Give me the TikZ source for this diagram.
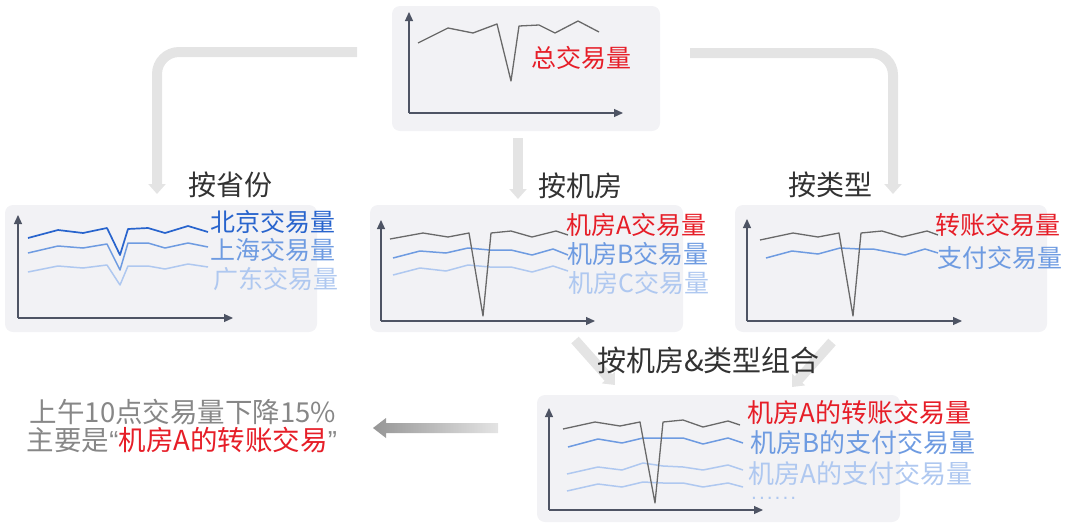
\documentclass[tikz,border=0pt]{standalone}
\usepackage{fontspec}
\setmainfont{Noto Sans CJK SC}
\newfontfamily\latinq{Liberation Sans}
\usetikzlibrary{arrows.meta}
\definecolor{pfill}{RGB}{242,242,245}
\definecolor{axc}{RGB}{78,84,100}
\definecolor{lgray}{RGB}{105,105,105}
\definecolor{db}{RGB}{40,100,205}
\definecolor{mb}{RGB}{110,155,225}
\definecolor{lb}{RGB}{175,200,240}
\definecolor{rd}{RGB}{230,30,40}
\definecolor{arr}{RGB}{228,228,228}
\definecolor{txt}{RGB}{50,50,50}
\definecolor{tgray}{RGB}{135,135,135}
\newcommand\myaxes[4]{%
  \draw[axisline] (#1,#3) -- (#1,#2);
  \draw[axisline] (#1,#3) -- (#4,#3);}
\begin{document}
\begin{tikzpicture}[x=1pt,y=-1pt,
  panel/.style={draw=none,fill=pfill,rounded corners=8pt,inner sep=0pt},
  axisline/.style={draw=axc,line width=1.2pt,-{Triangle[width=8pt,length=9pt]}},
  gline/.style={draw=lgray,line width=1.3pt,line join=round},
  bline1/.style={draw=db,line width=1.7pt,line join=round},
  bline2/.style={draw=mb,line width=1.5pt,line join=round},
  bline3/.style={draw=lb,line width=1.5pt,line join=round},
  bigarrow/.style={draw=arr,line width=10pt,-{Triangle[width=17pt,length=10pt]}},
  lbl/.style={inner sep=0pt,text=txt,font=\fontsize{28}{32}\selectfont},
  ptext/.style={inner sep=0pt,anchor=west,font=\fontsize{25}{30}\selectfont},
  btext/.style={inner sep=0pt,anchor=west,font=\fontsize{26}{31}\selectfont},
  ctext/.style={inner sep=0pt,font=\fontsize{27.5}{32}\selectfont}]
\useasboundingbox (0,0) rectangle (1080,528);

% panels
\node[panel,minimum width=268pt,minimum height=125pt] (top) at (526,68.5) {};
\node[panel,minimum width=312pt,minimum height=127pt] (pleft) at (161,268.5) {};
\node[panel,minimum width=313pt,minimum height=127pt] (pmid) at (526.5,268.5) {};
\node[panel,minimum width=312pt,minimum height=127pt] (pright) at (891,268.5) {};
\node[panel,minimum width=363pt,minimum height=127pt] (pbot) at (718.5,458.5) {};

% connectors
\coordinate (la1) at (357,52);
\coordinate (la2) at (157,194);
\coordinate (ra1) at (690,53);
\coordinate (ra2) at (893,194);
\coordinate (ma1) at (518,138);
\coordinate (ma2) at (518,199);
\coordinate (da1) at (575,340);
\coordinate (da2) at (615,385);
\coordinate (db1) at (832,342);
\coordinate (db2) at (792,387);
\draw[bigarrow,rounded corners=22pt] (la1) -| (la2);
\draw[bigarrow,rounded corners=22pt] (ra1) -| (ra2);
\draw[bigarrow] (ma1) -- (ma2);
\draw[bigarrow] (da1) -- (da2);
\draw[bigarrow] (db1) -- (db2);
\shade[left color={rgb,255:red,150;green,150;blue,150},right color={rgb,255:red,228;green,228;blue,228}]
  (373,428) -- (386,418) -- (386,423) -- (498,423) -- (498,433) -- (386,433) -- (386,438) -- cycle;

% top chart
\myaxes{409}{12}{113}{623}
\draw[gline] (418,43) -- (448,28) -- (473,33) -- (497,24) -- (511,81) -- (519,26) -- (539,25) -- (555,33) -- (578,21) -- (599,32);
\node[ptext,text=rd] (ttot) at (531,58) {总交易量};

% left chart
\myaxes{18}{215}{318}{233}
\draw[bline3] (28,272) -- (58,266) -- (83,268) -- (107,265) -- (120,285) -- (128,266) -- (148,266) -- (165,269) -- (188,264) -- (208,267);
\draw[bline2] (28,253) -- (58,246) -- (83,248) -- (107,244) -- (120,270) -- (128,243) -- (148,243) -- (165,248) -- (188,243) -- (208,247);
\draw[bline1] (28,238) -- (58,230) -- (83,233) -- (107,228) -- (120,255) -- (128,229) -- (148,228) -- (165,233) -- (188,226) -- (208,232);
\node[ptext,text=db] (tbj) at (210,222) {北京交易量};
\node[ptext,text=mb] (tsh) at (210,250) {上海交易量};
\node[ptext,text=lb] (tgd) at (213,279) {广东交易量};

% middle chart
\myaxes{381}{220}{321}{595}
\draw[bline3] (393,275) -- (420,268) -- (446,271) -- (468,265) -- (490,267) -- (511,267) -- (532,272) -- (553,266) -- (568,271);
\draw[bline2] (393,258) -- (420,251) -- (446,253) -- (468,248) -- (490,250) -- (511,250) -- (532,255) -- (553,249) -- (568,255);
\draw[gline] (390,239) -- (423,233) -- (448,237) -- (469,233) -- (483,316) -- (491,233) -- (511,231) -- (532,237) -- (556,231) -- (568,235);
\node[ptext,text=rd] (tma) at (566,225) {机房A交易量};
\node[ptext,text=mb] (tmb) at (567,254) {机房B交易量};
\node[ptext,text=lb] (tmc) at (568,283) {机房C交易量};

% right chart
\myaxes{747}{219}{321}{962}
\draw[bline2] (766,258) -- (792,251) -- (818,254) -- (840,248) -- (860,249) -- (873,249) -- (905,255) -- (925,249) -- (938,253);
\draw[gline] (760,240) -- (793,233) -- (818,237) -- (839,233) -- (853,316) -- (861,233) -- (882,231) -- (902,237) -- (927,231) -- (938,235);
\node[ptext,text=rd] (tzz) at (935,225) {转账交易量};
\node[ptext,text=mb] (tzf) at (937,258) {支付交易量};

% bottom chart
\myaxes{549}{408}{510}{763}
\draw[bline3] (567,491) -- (598,484) -- (622,487) -- (643,482) -- (663,483) -- (683,483) -- (703,487) -- (728,483) -- (743,487);
\draw[bline3] (567,474) -- (598,467) -- (622,470) -- (643,463) -- (663,466) -- (683,467) -- (703,470) -- (728,465) -- (743,470);
\draw[bline2] (568,447) -- (598,439) -- (622,443) -- (643,438) -- (663,438) -- (683,438) -- (703,444) -- (728,438) -- (743,443);
\draw[gline] (563,429) -- (595,422) -- (620,426) -- (640,422) -- (655,503) -- (663,422) -- (683,420) -- (703,427) -- (728,421) -- (740,425);
\node[btext,text=rd] (tb1) at (747,413) {机房A的转账交易量};
\node[btext,text=mb] (tb2) at (750,443) {机房B的支付交易量};
\node[btext,text=lb] (tb3) at (748,474) {机房A的支付交易量};
\node[inner sep=0pt,anchor=base west,text=lb,font=\latinq\fontsize{21}{24}\selectfont] (tb4) at (751,499) {.\kern2pt.\kern2pt.\kern2pt.\kern2pt.\kern2pt.};

% labels
\node[lbl] (lsf) at (230,185) {按省份};
\node[lbl] (ljf) at (580,186) {按机房};
\node[lbl] (llx) at (830,185) {按类型};
\node[lbl,anchor=west,font=\fontsize{29}{33}\selectfont] (lzh) at (597,360) {按机房\&类型组合};

% conclusion
\node[ctext,text=tgray] (c1) at (183,412) {上午10点交易量下降15\%};
\node[ctext,text=tgray] (c2) at (182,440) {主要是{\latinq “}\textcolor{rd}{机房A的转账交易}{\latinq ”}};
\end{tikzpicture}
\end{document}
